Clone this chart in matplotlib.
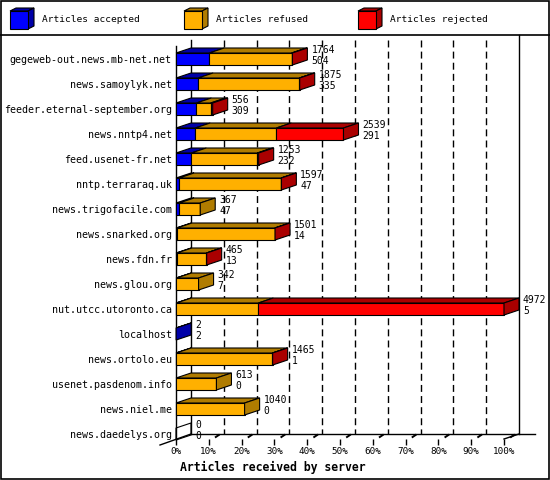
import matplotlib

matplotlib.use("Agg")
import matplotlib.pyplot as plt
from matplotlib.patches import Polygon, Rectangle

plt.rcParams["font.family"] = ["DejaVu Sans Mono"]

servers = [
    "gegeweb-out.news.mb-net.net",
    "news.samoylyk.net",
    "feeder.eternal-september.org",
    "news.nntp4.net",
    "feed.usenet-fr.net",
    "nntp.terraraq.uk",
    "news.trigofacile.com",
    "news.snarked.org",
    "news.fdn.fr",
    "news.glou.org",
    "nut.utcc.utoronto.ca",
    "localhost",
    "news.ortolo.eu",
    "usenet.pasdenom.info",
    "news.niel.me",
    "news.daedelys.org",
]
total = [1764, 1875, 556, 2539, 1253, 1597, 367, 1501, 465, 342, 4972, 2, 1465, 613, 1040, 0]
accepted = [504, 335, 309, 291, 232, 47, 47, 14, 13, 7, 5, 2, 1, 0, 0, 0]
rejected = [12, 5, 30, 1018, 21, 4, 0, 3, 3, 0, 3724, 0, 3, 0, 0, 0]
refused = [t - a - r for t, a, r in zip(total, accepted, rejected)]

series_names = ["Articles accepted", "Articles refused", "Articles rejected"]
front_colors = ["#0000ff", "#ffb000", "#ff0000"]
dark_colors = ["#0000a8", "#b07c00", "#aa0000"]
pct_labels = [f"{k * 10}%" for k in range(11)]

W, H = 550, 480
fig = plt.figure(figsize=(W / 100, H / 100), dpi=100)

# background layer in pixel coordinates: frame, legend, axis title
bg = fig.add_axes([0, 0, 1, 1], zorder=0)
bg.set_xlim(0, W)
bg.set_ylim(H, 0)
bg.axis("off")
bg.add_patch(Rectangle((0.5, 0.5), W - 1.5, H - 1.5, fill=False, lw=1.2, ec="black"))
bg.plot([0, W], [35, 35], color="black", lw=1.2)

legend_x = [10, 184, 358]
for lx, name, fc, dc in zip(legend_x, series_names, front_colors, dark_colors):
    top, size, d = 11, 18, 6
    bg.add_patch(Polygon([(lx, top), (lx + d, top - 3), (lx + size + d, top - 3), (lx + size, top)],
                         fc=dc, ec="black", lw=0.8))
    bg.add_patch(Polygon([(lx + size, top), (lx + size + d, top - 3), (lx + size + d, top + size - 3),
                          (lx + size, top + size)], fc=dc, ec="black", lw=0.8))
    bg.add_patch(Rectangle((lx, top), size, size, fc=fc, ec="black", lw=0.8))
    bg.text(lx + 32, 20, name, fontsize=6.8, va="center", ha="left")

bg.text(180, 467, "Articles received by server", fontsize=8.3, fontweight="bold",
        va="center", ha="left")

# main axes: front plane, x in articles, y in rows
x0_px, x1_px, top_px, bot_px = 176, 504, 40, 439
row0_px, row_step = 59, 25
xmax = max(total)
ax = fig.add_axes([x0_px / W, 1 - bot_px / H, (x1_px - x0_px) / W, (bot_px - top_px) / H], zorder=1)
ax.patch.set_visible(False)
ax.set_xlim(0, xmax)
ylo = (bot_px - row0_px) / row_step
yhi = (top_px - row0_px) / row_step
ax.set_ylim(ylo, yhi)

px = xmax / (x1_px - x0_px)   # one pixel in x data units
py = 1 / row_step             # one pixel in y data units
dx, dy = 15 * px, 5 * py      # depth of the 3d effect
half = 6 * py

for s in ["top", "right", "bottom"]:
    ax.spines[s].set_visible(False)
ax.spines["left"].set_bounds(ylo, (46 - row0_px) / row_step)
ax.spines["left"].set_linewidth(1.0)

ax.set_yticks(range(len(servers)), servers, fontsize=7.2)
ax.tick_params(axis="y", length=0, pad=3)
ax.set_xticks([xmax * k / 10 for k in range(11)], pct_labels, fontsize=6.7)
ax.tick_params(axis="x", length=4, width=1.0, pad=2, direction="out")

# back wall, grid and floor
back_y = ylo - dy
ax.plot([dx, dx], [yhi, back_y], color="black", lw=1.0, clip_on=False)
ax.plot([xmax + dx, xmax + dx], [yhi - 5 * py, back_y], color="black", lw=1.0, clip_on=False)
for k in range(1, 10):
    gx = xmax * k / 10 + dx
    ax.plot([gx, gx], [yhi, back_y], color="black", lw=1.0, ls=(0, (5, 3)), clip_on=False)
ax.plot([dx, xmax + dx + 16 * px], [back_y, back_y], color="black", lw=1.0, clip_on=False)
ax.plot([-16 * px, dx], [ylo + 6 * py, back_y], color="black", lw=1.0, clip_on=False)
ax.plot([xmax, xmax + dx], [ylo, back_y], color="black", lw=1.0, clip_on=False)
for k in range(1, 11):
    tx = xmax * k / 10
    ax.plot([tx + 7 * px, tx + 10 * px], [ylo - 2 * py, ylo - 4 * py], color="black",
            lw=1.4, clip_on=False)

# bars
for i in range(len(servers)):
    parts = [accepted[i], refused[i], rejected[i]]
    ytop, ybot = i - half, i + half
    left = 0
    last = 1
    for j, v in enumerate(parts):
        if v <= 0:
            continue
        right = left + v
        ax.add_patch(Polygon([(left, ybot), (left, ytop), (right, ytop), (right, ybot)],
                             fc=front_colors[j], ec="black", lw=0.8, clip_on=False, zorder=3))
        ax.add_patch(Polygon([(left, ytop), (left + dx, ytop - dy), (right + dx, ytop - dy),
                              (right, ytop)], fc=dark_colors[j], ec="black", lw=0.8,
                             clip_on=False, zorder=3))
        left = right
        last = j
    end = total[i]
    ax.add_patch(Polygon([(end, ytop), (end + dx, ytop - dy), (end + dx, ybot - dy), (end, ybot)],
                         fc=dark_colors[last] if end > 0 else "none", ec="black", lw=0.8,
                         clip_on=False, zorder=4))
    ax.text(end + dx + 4 * px, i - 9 * py, str(total[i]), fontsize=7, va="center", ha="left",
            clip_on=False)
    ax.text(end + dx + 4 * px, i + 2 * py, str(accepted[i]), fontsize=7, va="center", ha="left",
            clip_on=False)

fig.savefig("out.png", dpi=100)
